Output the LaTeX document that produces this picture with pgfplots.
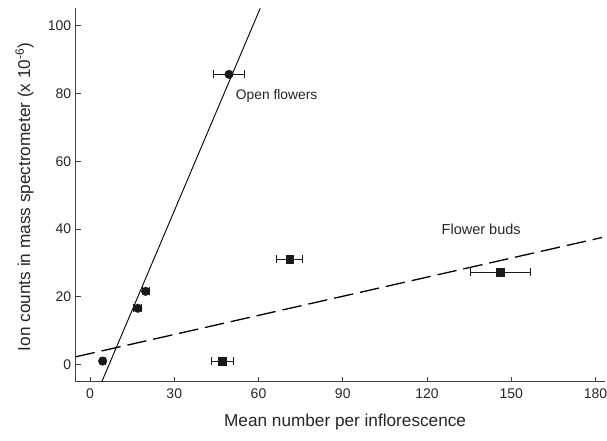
\documentclass[border=0pt]{standalone}
\usepackage{pgfplots}
\pgfplotsset{compat=1.18}
\usepackage{fontspec}
\setmainfont{Liberation Sans}
\begin{document}
\begin{tikzpicture}[x=1pt,y=1pt]
\begin{axis}[
  scale only axis,
  width=528.8pt, height=373.7pt,
  xmin=-5.1, xmax=183.2,
  ymin=-5.1, ymax=105.3,
  axis lines*=left,
  axis line style={black!75, line width=1.1pt},
  tick align=inside,
  major tick length=5pt,
  tick style={black!75, line width=0.9pt},
  xtick={0,30,60,90,120,150,180},
  ytick={0,20,40,60,80,100},
  /pgf/number format/assume math mode=true,
  tick label style={font=\fontsize{14}{16}\selectfont, text=black!85},
  xticklabel style={yshift=-3pt},
  yticklabel style={xshift=-1pt},
  label style={font=\fontsize{17.2}{20}\selectfont, text=black!85},
  xlabel={Mean number per inflorescence},
  ylabel={Ion counts in mass spectrometer (x 10\textsuperscript{-6})},
  xlabel style={at={(axis description cs:0.5,0)}, anchor=base, xshift=5pt, yshift=-44.3pt},
  ylabel style={at={(axis description cs:0,0.5)}, anchor=base, xshift=-2pt, yshift=45.5pt},
  clip=false,
]
% regression lines
\addplot[black, line width=0.9pt] coordinates {(4.2,-5.1) (60.6,105.2)};
\addplot[black, line width=1.3pt, dash pattern=on 19.5pt off 7pt] coordinates {(-5.1,2.25) (182.3,37.5)};
% open flowers
\addplot[only marks, mark=*, mark size=4.3pt, black!90, mark options={fill=black!90},
  error bars/.cd, x dir=both, x explicit, error mark options={rotate=90, mark size=4pt, line width=0.7pt}, error bar style={line width=0.7pt}]
  coordinates {
  (4.5,1.0) +- (0.8,0)
  (17.0,16.6) +- (1.4,0)
  (19.8,21.6) +- (1.3,0)
  (49.5,85.7) +- (5.5,0)
};
% flower buds
\addplot[only marks, mark=square*, mark size=3.7pt, black!90, mark options={fill=black!90},
  error bars/.cd, x dir=both, x explicit, error mark options={rotate=90, mark size=4pt, line width=0.7pt}, error bar style={line width=0.7pt}]
  coordinates {
  (47.1,1.0) +- (3.9,0)
  (71.0,31.1) +- (4.7,0)
  (146.1,27.2) +- (10.8,0)
};
\node[anchor=west, inner sep=0pt, font=\fontsize{13.8}{16}\selectfont, text=black!85] at (axis cs:51.9,79.4) {Open flowers};
\node[inner sep=0pt, font=\fontsize{14.5}{16}\selectfont, text=black!85] at (axis cs:139.3,39.8) {Flower buds};
\end{axis}
\pgfresetboundingbox
\path (-75.7pt,-58.3pt) rectangle (531.3pt,381.7pt);
\end{tikzpicture}
\end{document}
